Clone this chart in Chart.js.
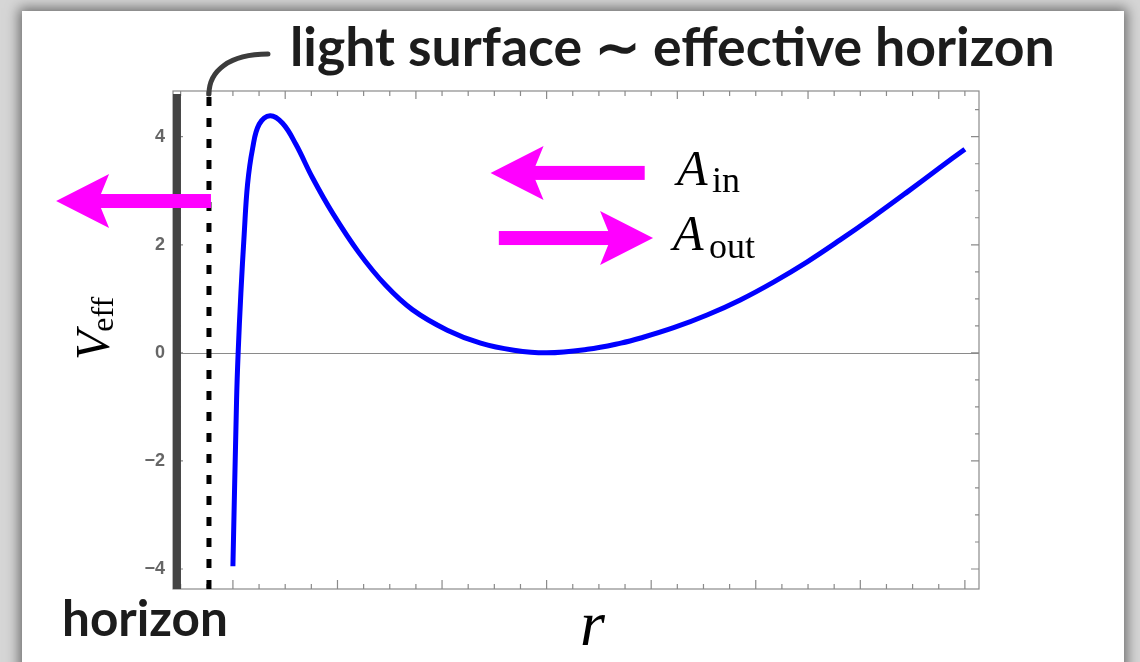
<!DOCTYPE html>
<html>
<head>
<meta charset="utf-8">
<script src="https://cdn.jsdelivr.net/npm/chart.js@4.4.1/dist/chart.umd.min.js"></script>
<style>
  html, body { margin: 0; padding: 0; }
  body { width: 1140px; height: 662px; overflow: hidden; position: relative; background: #d6d6d6; }
  #card { position: absolute; left: 22px; top: 11px; width: 1102px; height: 700px; background: #fff;
          box-shadow: 0 0 12px 3px rgba(0, 0, 0, 0.5); }
  #c { position: absolute; left: 0; top: 0; }
</style>
</head>
<body>
<div id="card"></div>
<canvas id="c" width="1140" height="662"></canvas>
<script>
// r in plot units (one major bottom tick = 1), V_eff
const rValues = [1.000, 1.035, 1.050, 1.076, 1.108, 1.140, 1.188, 1.251, 1.356, 1.475, 1.602, 1.761,
                 1.952, 2.206, 2.461, 2.716, 3.050, 3.369, 3.687, 4.000, 4.390, 4.710, 4.900, 5.215,
                 5.534, 5.852, 6.170, 6.489, 6.807, 7.125, 7.444, 7.762, 8.000];
const vEff    = [-3.95, -0.87, 0.00, 1.10, 2.20, 3.12, 3.78, 4.23, 4.39, 4.25, 3.86, 3.24,
                 2.59, 1.85, 1.25, 0.80, 0.42, 0.18, 0.05, 0.00, 0.065, 0.18, 0.275, 0.465,
                 0.70, 0.98, 1.31, 1.68, 2.09, 2.52, 2.97, 3.43, 3.77];
const yTickValues = [-4, -2, 0, 2, 4];
const rHorizon = 0.465;
const rLightSurface = 0.771;
const horizonTop = 4.79;
const lightSurfaceTop = 4.77;
// arrows: [tail r, tip r, V]
const arrowOut = [0.79, -0.691, 2.81];
const arrowIn = [4.938, 3.464, 3.33];
const arrowOutgoing = [3.543, 5.018, 2.125];

const xMin = 0.427, xMax = 8.135;
const yMin = -4.37, yMax = 4.846;

const magenta = '#ff00ff';

function drawArrow(ctx, xs, ys, a) {
  const x0 = xs.getPixelForValue(a[0]);
  const x1 = xs.getPixelForValue(a[1]);
  const y = ys.getPixelForValue(a[2]);
  const dir = Math.sign(x1 - x0);
  const headLen = 53, headHalf = 27, notch = 42, shaft = 14;
  ctx.fillStyle = magenta;
  const sEnd = x1 - dir * (notch - 2);
  ctx.fillRect(Math.min(x0, sEnd), y - shaft / 2, Math.abs(sEnd - x0), shaft);
  ctx.beginPath();
  ctx.moveTo(x1, y);
  ctx.lineTo(x1 - dir * headLen, y - headHalf);
  ctx.lineTo(x1 - dir * notch, y);
  ctx.lineTo(x1 - dir * headLen, y + headHalf);
  ctx.closePath();
  ctx.fill();
}

function fitText(ctx, text, family, weight, width) {
  ctx.font = weight + ' 100px ' + family;
  return 100 * width / ctx.measureText(text).width;
}

const framePlugin = {
  id: 'frame',
  beforeDatasetsDraw(chart) {
    const { ctx, chartArea: a, scales: { x, y } } = chart;
    ctx.save();
    ctx.strokeStyle = '#8a8a8a';
    ctx.lineWidth = 1.2;
    ctx.strokeRect(a.left, a.top, a.right - a.left, a.bottom - a.top);
    ctx.beginPath();
    // bottom ticks: minor every 0.25, major every 1; top majors every 1.25
    for (let k = 2; k <= 32; k++) {
      const r = k / 4, px = x.getPixelForValue(r);
      const len = (k % 4 === 0) ? 9 : 5;
      ctx.moveTo(px, a.bottom); ctx.lineTo(px, a.bottom - len);
      const q = (r - 1.5) / 1.25;
      const tlen = Math.abs(q - Math.round(q)) < 1e-6 ? 8 : 5;
      ctx.moveTo(px, a.top); ctx.lineTo(px, a.top + tlen);
    }
    // side ticks every 0.5, major every 2
    for (let k = -8; k <= 9; k++) {
      const v = k / 2, py = y.getPixelForValue(v);
      const major = (k % 4 === 0);
      ctx.moveTo(a.left, py); ctx.lineTo(a.left + (major ? 10 : 8), py);
      ctx.moveTo(a.right, py); ctx.lineTo(a.right - (major ? 8 : 4), py);
    }
    ctx.stroke();
    // zero line
    ctx.lineWidth = 1;
    const y0 = Math.round(y.getPixelForValue(0)) + 0.5;
    ctx.beginPath(); ctx.moveTo(a.left, y0); ctx.lineTo(a.right, y0); ctx.stroke();
    ctx.restore();
  },
  afterDatasetsDraw(chart) {
    const { ctx, scales: { x, y } } = chart;
    ctx.save();
    // connector from the light surface to the caption
    const sx = x.getPixelForValue(rLightSurface), sy = y.getPixelForValue(lightSurfaceTop) - 1;
    ctx.strokeStyle = '#3c3c3c';
    ctx.lineWidth = 5;
    ctx.lineCap = 'round';
    ctx.beginPath();
    ctx.moveTo(sx, sy);
    ctx.bezierCurveTo(sx, sy - 23, sx + 20, sy - 40, sx + 59, sy - 40);
    ctx.stroke();

    drawArrow(ctx, x, y, arrowOut);
    drawArrow(ctx, x, y, arrowIn);
    drawArrow(ctx, x, y, arrowOutgoing);

    // captions
    ctx.fillStyle = '#1c1c1c';
    ctx.textBaseline = 'alphabetic';
    ctx.textAlign = 'left';
    const title = 'light surface \u223C effective horizon';
    let s = fitText(ctx, title, 'Lato', 'bold', 765);
    ctx.font = 'bold ' + s + 'px Lato';
    ctx.fillText(title, 290, 66);
    s = fitText(ctx, 'horizon', 'Lato', 'bold', 166);
    ctx.font = 'bold ' + s + 'px Lato';
    ctx.fillText('horizon', 62, 636);

    // math labels
    ctx.fillStyle = '#000';
    ctx.font = 'italic 50px "Liberation Serif"';
    ctx.fillText('A', 677, 185);
    ctx.fillText('A', 673, 250);
    ctx.font = '36px "Liberation Serif"';
    ctx.fillText('in', 712, 192);
    ctx.fillText('out', 709, 258);

    ctx.font = 'italic 64px "Liberation Serif"';
    ctx.fillText('r', 580, 645);

    ctx.translate(109, 360);
    ctx.rotate(-Math.PI / 2);
    ctx.font = 'italic 48px "Liberation Serif"';
    ctx.fillText('V', 0, 0);
    const vw = ctx.measureText('V').width;
    ctx.font = '32px "Liberation Serif"';
    ctx.fillText('eff', vw - 1, 4);
    ctx.restore();
  }
};

const curveData = rValues.map((r, i) => ({ x: r, y: vEff[i] }));

new Chart(document.getElementById('c'), {
  type: 'line',
  data: {
    datasets: [
      {
        label: 'V_eff',
        data: curveData,
        borderColor: '#0000ff',
        borderWidth: 5,
        pointRadius: 0,
        tension: 0.4,
        order: 1
      },
      {
        label: 'light surface',
        data: [{ x: rLightSurface, y: yMin }, { x: rLightSurface, y: lightSurfaceTop }],
        borderColor: '#000',
        borderWidth: 5,
        borderDash: [9, 12],
        pointRadius: 0,
        clip: false,
        order: 2
      },
      {
        label: 'horizon',
        data: [{ x: rHorizon, y: yMin }, { x: rHorizon, y: horizonTop }],
        borderColor: '#444',
        borderWidth: 8,
        pointRadius: 0,
        clip: false,
        order: 3
      }
    ]
  },
  options: {
    responsive: false,
    animation: false,
    layout: { padding: { top: 91, right: 161, left: 0, bottom: 0 } },
    plugins: { legend: { display: false }, tooltip: { enabled: false } },
    scales: {
      x: {
        type: 'linear',
        min: xMin,
        max: xMax,
        ticks: { display: false },
        grid: { display: false },
        border: { display: false },
        afterFit: (scale) => { scale.height = 662 - 589; }
      },
      y: {
        type: 'linear',
        min: yMin,
        max: yMax,
        afterBuildTicks: (scale) => { scale.ticks = yTickValues.map(v => ({ value: v })); },
        ticks: {
          padding: 8,
          color: '#666',
          font: { family: 'Liberation Sans', weight: 'bold', size: 18 },
          callback: (v) => v < 0 ? '\u2212' + Math.abs(v) : String(v)
        },
        grid: { display: false, drawTicks: false },
        border: { display: false },
        afterFit: (scale) => { scale.width = 173; }
      }
    }
  },
  plugins: [framePlugin]
});
</script>
</body>
</html>
